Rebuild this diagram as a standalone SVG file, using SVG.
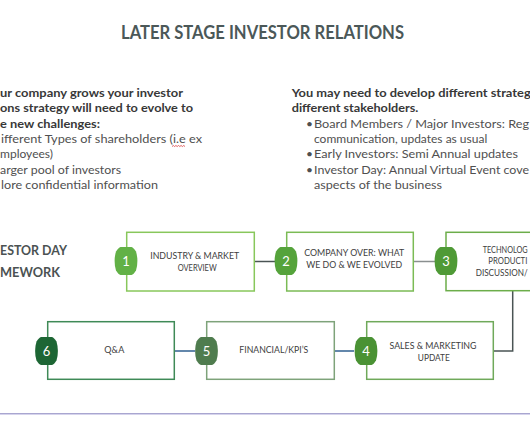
<svg xmlns="http://www.w3.org/2000/svg" width="530" height="443" viewBox="0 0 530 443">
<style>
  .title{font-family:Lato,"Liberation Sans",sans-serif;font-weight:bold;font-size:18px;fill:#4b5858}
  .b{font-family:Lato,"Liberation Sans",sans-serif;font-weight:bold;font-size:12px;fill:#383838}
  .r{font-family:Lato,"Liberation Sans",sans-serif;font-size:12px;fill:#505050}
  .fw{font-family:Lato,"Liberation Sans",sans-serif;font-weight:bold;font-size:14px;fill:#4b5252}
  .bx{fill:#ffffff;stroke-width:1.5}
  .bt{font-family:Lato,"Liberation Sans",sans-serif;font-size:9.8px;fill:#404040;text-anchor:middle}
  .num{font-family:Lato,"Liberation Sans",sans-serif;font-size:13px;fill:#ffffff;text-anchor:middle}
  .cn{fill:none;stroke-width:1.5}
</style>
<defs>
  <path id="badge" d="M-5.5,-14 L5.5,-14 Q7.5,-13.5 10,-9.5 Q12.8,0 10,9.5 Q7.5,13.5 5.5,14 L-5.5,14 Q-7.5,13.5 -10,9.5 Q-12.8,0 -10,-9.5 Q-7.5,-13.5 -5.5,-14 Z"/>
</defs>
<rect width="530" height="443" fill="#ffffff"/>

<text class="title" x="121" y="39" textLength="283" lengthAdjust="spacingAndGlyphs">LATER STAGE INVESTOR RELATIONS</text>

<g id="left-text">
  <text class="b" x="0" y="97" textLength="183" lengthAdjust="spacingAndGlyphs">ur company grows your investor</text>
  <text class="b" x="0" y="112.3" textLength="193" lengthAdjust="spacingAndGlyphs">ons strategy will need to evolve to</text>
  <text class="b" x="0" y="127.6" textLength="100" lengthAdjust="spacingAndGlyphs">e new challenges:</text>
  <text class="r" x="1" y="142.9" textLength="201" lengthAdjust="spacingAndGlyphs">ifferent Types of shareholders (i.e ex</text>
  <text class="r" x="0" y="158.2" textLength="53" lengthAdjust="spacingAndGlyphs">mployees)</text>
  <text class="r" x="0" y="173.5" textLength="121" lengthAdjust="spacingAndGlyphs">arger pool of investors</text>
  <text class="r" x="1" y="188.8" textLength="157" lengthAdjust="spacingAndGlyphs">lore confidential information</text>
  <path d="M172,146.5 l1.3,-1 l1.3,1 l1.3,-1 l1.3,1 l1.3,-1 l1.3,1 l1.3,-1 l1.3,1 l1.3,-1 l1.3,1" fill="none" stroke="#d83a3a" stroke-width="0.8"/>
</g>

<g id="right-text">
  <text class="b" x="291.7" y="97" textLength="239" lengthAdjust="spacingAndGlyphs">You may need to develop different strateg</text>
  <text class="b" x="291.7" y="112.3" textLength="126.6" lengthAdjust="spacingAndGlyphs">different stakeholders.</text>
  <text class="r" x="306" y="127.6" font-size="10">•</text>
  <text class="r" x="314" y="127.6" textLength="215" lengthAdjust="spacingAndGlyphs">Board Members / Major Investors: Reg</text>
  <text class="r" x="314" y="142.9">communication, updates as usual</text>
  <text class="r" x="306" y="158.2" font-size="10">•</text>
  <text class="r" x="314" y="158.2" textLength="204" lengthAdjust="spacingAndGlyphs">Early Investors: Semi Annual updates</text>
  <text class="r" x="306" y="173.5" font-size="10">•</text>
  <text class="r" x="314" y="173.5" textLength="215" lengthAdjust="spacingAndGlyphs">Investor Day: Annual Virtual Event cove</text>
  <text class="r" x="314" y="188.8" textLength="128" lengthAdjust="spacingAndGlyphs">aspects of the business</text>
</g>

<g id="framework-label">
  <text class="fw" x="0" y="255" textLength="67" lengthAdjust="spacingAndGlyphs">ESTOR DAY</text>
  <text class="fw" x="0" y="277" textLength="60" lengthAdjust="spacingAndGlyphs">MEWORK</text>
</g>

<g id="connectors">
  <path class="cn" d="M254.3,261.5 H275" stroke="#4a5454"/>
  <path class="cn" d="M413.3,261.5 H435" stroke="#8a8f8f"/>
  <path class="cn" d="M512.7,290.7 V351 H493.3" stroke="#4a5454"/>
  <path class="cn" d="M334.3,351 H354" stroke="#2f5f8f"/>
  <path class="cn" d="M174.3,351 H195" stroke="#2f5f8f"/>
</g>

<g id="node1">
  <rect class="bx" x="126.7" y="232.3" width="127.6" height="58.7" stroke="#88c75b"/>
  <use href="#badge" x="126" y="261" fill="#62b146"/>
  <text class="num" x="126" y="265.7">1</text>
  <text class="bt" x="194.7" y="258.8" textLength="89" lengthAdjust="spacingAndGlyphs">INDUSTRY &amp; MARKET</text>
  <text class="bt" x="197.2" y="271" textLength="39" lengthAdjust="spacingAndGlyphs">OVERVIEW</text>
</g>

<g id="node2">
  <rect class="bx" x="286.7" y="232.3" width="126.6" height="58.7" stroke="#7bbb55"/>
  <use href="#badge" x="286" y="261" fill="#55a33b"/>
  <text class="num" x="286" y="265.7">2</text>
  <text class="bt" x="354.3" y="256.2" textLength="100" lengthAdjust="spacingAndGlyphs">COMPANY OVER: WHAT</text>
  <text class="bt" x="354.2" y="268.2" textLength="96" lengthAdjust="spacingAndGlyphs">WE DO &amp; WE EVOLVED</text>
</g>

<g id="node3">
  <rect class="bx" x="446" y="232.3" width="100" height="58.4" stroke="#6cad4a"/>
  <use href="#badge" x="446" y="261" fill="#4f9a36"/>
  <text class="num" x="446" y="265.7">3</text>
  <text class="bt" x="482.7" y="253.4" style="text-anchor:start" textLength="45" lengthAdjust="spacingAndGlyphs">TECHNOLOG</text>
  <text class="bt" x="488.3" y="264.4" style="text-anchor:start" textLength="39" lengthAdjust="spacingAndGlyphs">PRODUCTI</text>
  <text class="bt" x="475.7" y="275.6" style="text-anchor:start" textLength="52" lengthAdjust="spacingAndGlyphs">DISCUSSION/</text>
</g>

<g id="node4">
  <rect class="bx" x="366.7" y="321.7" width="126.6" height="57.6" stroke="#6fa95a"/>
  <use href="#badge" x="366" y="351" fill="#4a9234"/>
  <text class="num" x="366" y="355.7">4</text>
  <text class="bt" x="433" y="349.2" textLength="87" lengthAdjust="spacingAndGlyphs">SALES &amp; MARKETING</text>
  <text class="bt" x="433.8" y="361.2" textLength="32" lengthAdjust="spacingAndGlyphs">UPDATE</text>
</g>

<g id="node5">
  <rect class="bx" x="206.7" y="321.7" width="127.6" height="57.6" stroke="#7ea37a"/>
  <use href="#badge" x="206.5" y="351" fill="#4f7c4e"/>
  <text class="num" x="206.5" y="355.7">5</text>
  <text class="bt" x="273.8" y="353.4" textLength="69" lengthAdjust="spacingAndGlyphs">FINANCIAL/KPI’S</text>
</g>

<g id="node6">
  <rect class="bx" x="47.7" y="321.7" width="126.6" height="57.6" stroke="#3f8a57"/>
  <use href="#badge" x="46.5" y="351" fill="#1d6634"/>
  <text class="num" x="46.5" y="355.7">6</text>
  <text class="bt" x="114.3" y="353.4" textLength="20" lengthAdjust="spacingAndGlyphs">Q&amp;A</text>
</g>

<g id="rule">
  <line x1="0" y1="413.5" x2="530" y2="413.5" stroke="#a9a6d0" stroke-width="1"/>
  <line x1="0" y1="414.5" x2="530" y2="414.5" stroke="#d6d4ec" stroke-width="1"/>
</g>
</svg>
